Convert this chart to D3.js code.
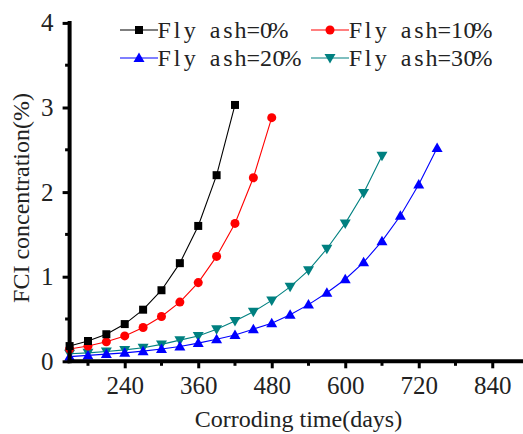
<!DOCTYPE html>
<html>
<head>
<meta charset="utf-8">
<script src="https://cdn.jsdelivr.net/npm/d3@7"></script>
<style>
  html, body { margin: 0; padding: 0; background: #fff; }
  svg { display: block; }
  text { font-family: "Liberation Serif", "Times New Roman", serif; fill: #222; }
</style>
</head>
<body>
<svg id="chart" width="523" height="434"></svg>
<script>
// Sampling times (days) for each fly-ash content
const days0  = [150, 180, 210, 240, 270, 300, 330, 360, 390, 420];
const days10 = [150, 180, 210, 240, 270, 300, 330, 360, 390, 420, 450, 480];
const days20 = [150, 180, 210, 240, 270, 300, 330, 360, 390, 420, 450, 480, 510, 540, 570, 600, 630, 660, 690, 720, 750];
const days30 = [150, 180, 210, 240, 270, 300, 330, 360, 390, 420, 450, 480, 510, 540, 570, 600, 630, 660];

// FCI concentration (%) at each sampling time
const fci0  = [0.18, 0.24, 0.32, 0.44, 0.61, 0.84, 1.16, 1.60, 2.20, 3.03];
const fci10 = [0.145, 0.18, 0.23, 0.30, 0.40, 0.53, 0.70, 0.93, 1.24, 1.63, 2.17, 2.88];
const fci20 = [0.055, 0.07, 0.085, 0.10, 0.12, 0.145, 0.175, 0.215, 0.26, 0.31, 0.38, 0.45, 0.55, 0.67, 0.81, 0.97, 1.17, 1.42, 1.72, 2.09, 2.52];
const fci30 = [0.09, 0.10, 0.115, 0.135, 0.16, 0.20, 0.25, 0.30, 0.38, 0.475, 0.585, 0.72, 0.88, 1.075, 1.33, 1.63, 1.99, 2.43];

const seriesNames = ["Fly ash=0%", "Fly ash=10%", "Fly ash=20%", "Fly ash=30%"];
const seriesColors = ["#000000", "#ff0000", "#0000ff", "#008080"];
const seriesShapes = ["square", "circle", "triangleUp", "triangleDown"];

const xMajorTicks = [240, 360, 480, 600, 720, 840];
const xMinorTicks = [180, 300, 420, 540, 660, 780, 900];
const yMajorTicks = [0, 1, 2, 3, 4];
const yMinorTicks = [0.5, 1.5, 2.5, 3.5];

const xLabel = "Corroding time(days)";
const yLabel = "FCI concentration(%)";

const series = [
  { name: seriesNames[0], days: days0,  vals: fci0,  color: seriesColors[0], shape: seriesShapes[0] },
  { name: seriesNames[1], days: days10, vals: fci10, color: seriesColors[1], shape: seriesShapes[1] },
  { name: seriesNames[2], days: days20, vals: fci20, color: seriesColors[2], shape: seriesShapes[2] },
  { name: seriesNames[3], days: days30, vals: fci30, color: seriesColors[3], shape: seriesShapes[3] }
];

const svg = d3.select("#chart");

const x = d3.scaleLinear().domain([150, 900]).range([69.6, 529]);
const y = d3.scaleLinear().domain([0, 4]).range([361.3, 22.9]);

// marker shape generator
function markerPath(shape) {
  switch (shape) {
    case "square": return "M-4,-4H4V4H-4Z";
    case "circle": return d3.symbol(d3.symbolCircle, 64)();
    case "triangleUp": return "M0,-5.5L5.5,4L-5.5,4Z";
    case "triangleDown": return "M0,5.5L5.5,-4L-5.5,-4Z";
  }
}

// lines and markers
const line = d3.line().x(d => x(d[0])).y(d => y(d[1]));
const plot = svg.append("g");
series.forEach(s => {
  const pts = s.days.map((d, i) => [d, s.vals[i]]);
  plot.append("path")
    .attr("d", line(pts))
    .attr("fill", "none")
    .attr("stroke", s.color)
    .attr("stroke-width", 1.1);
});
// markers drawn above all lines, in reverse order so black sits on top
series.slice().reverse().forEach(s => {
  const pts = s.days.map((d, i) => [d, s.vals[i]]);
  plot.selectAll(null).data(pts).enter().append("path")
    .attr("d", markerPath(s.shape))
    .attr("transform", d => `translate(${x(d[0])},${y(d[1])})`)
    .attr("fill", s.color);
});

// x axis
const xAxis = svg.append("g").attr("transform", `translate(0,${y(0)})`);
xAxis.call(d3.axisBottom(x).tickValues(xMajorTicks).tickSize(7).tickPadding(8).tickFormat(d3.format("d")));
xAxis.select(".domain").attr("stroke", "#000").attr("stroke-width", 4).attr("d", `M${x.range()[0] - 2},0H${x.range()[1]}`);
xAxis.selectAll(".tick line").attr("stroke", "#000").attr("stroke-width", 3);
xAxis.selectAll(".tick text").attr("font-size", 25).attr("fill", "#222")
  .style("font-family", '"Liberation Serif", serif');
xAxis.selectAll(".minor").data(xMinorTicks).enter().append("line")
  .attr("x1", d => x(d)).attr("x2", d => x(d)).attr("y1", 0).attr("y2", 4.5)
  .attr("stroke", "#000").attr("stroke-width", 3);

// y axis
const yAxis = svg.append("g").attr("transform", `translate(${x(150)},0)`);
yAxis.call(d3.axisLeft(y).tickValues(yMajorTicks).tickSize(7).tickPadding(9).tickFormat(d3.format("d")));
yAxis.select(".domain").attr("stroke", "#000").attr("stroke-width", 4).attr("d", `M0,${y(4) - 2}V${y(0) + 2}`);
yAxis.selectAll(".tick line").attr("stroke", "#000").attr("stroke-width", 3);
yAxis.selectAll(".tick text").attr("font-size", 25).attr("fill", "#222")
  .style("font-family", '"Liberation Serif", serif');
yAxis.selectAll(".minor").data(yMinorTicks).enter().append("line")
  .attr("x1", 0).attr("x2", -4.5).attr("y1", d => y(d)).attr("y2", d => y(d))
  .attr("stroke", "#000").attr("stroke-width", 3);

// axis titles
svg.append("text")
  .attr("x", 298.5).attr("y", 427)
  .attr("text-anchor", "middle")
  .attr("font-size", 24)
  .text(xLabel);
svg.append("text")
  .attr("transform", "translate(29,198) rotate(-90)")
  .attr("text-anchor", "middle")
  .attr("font-size", 24)
  .text(yLabel);

// legend: two columns, two rows, fixed-pitch lettering
const legendPos = [
  { lx: 120, ly: 30 },
  { lx: 311, ly: 30 },
  { lx: 120, ly: 58 },
  { lx: 311, ly: 58 }
];
const pitch = 12.7;
series.forEach((s, i) => {
  const p = legendPos[i];
  const g = svg.append("g");
  g.append("line")
    .attr("x1", p.lx).attr("x2", p.lx + 38)
    .attr("y1", p.ly).attr("y2", p.ly)
    .attr("stroke", s.color).attr("stroke-width", 1.1);
  g.append("path")
    .attr("d", markerPath(s.shape))
    .attr("transform", `translate(${p.lx + 19},${p.ly})`)
    .attr("fill", s.color);
  const chars = Array.from(s.name);
  g.append("text")
    .attr("x", chars.map((c, k) => (p.lx + 38 + pitch * (k + 0.5)).toFixed(1)).join(" "))
    .attr("y", p.ly + 8)
    .attr("text-anchor", "middle")
    .attr("font-size", 24)
    .text(s.name);
});
</script>
</body>
</html>
